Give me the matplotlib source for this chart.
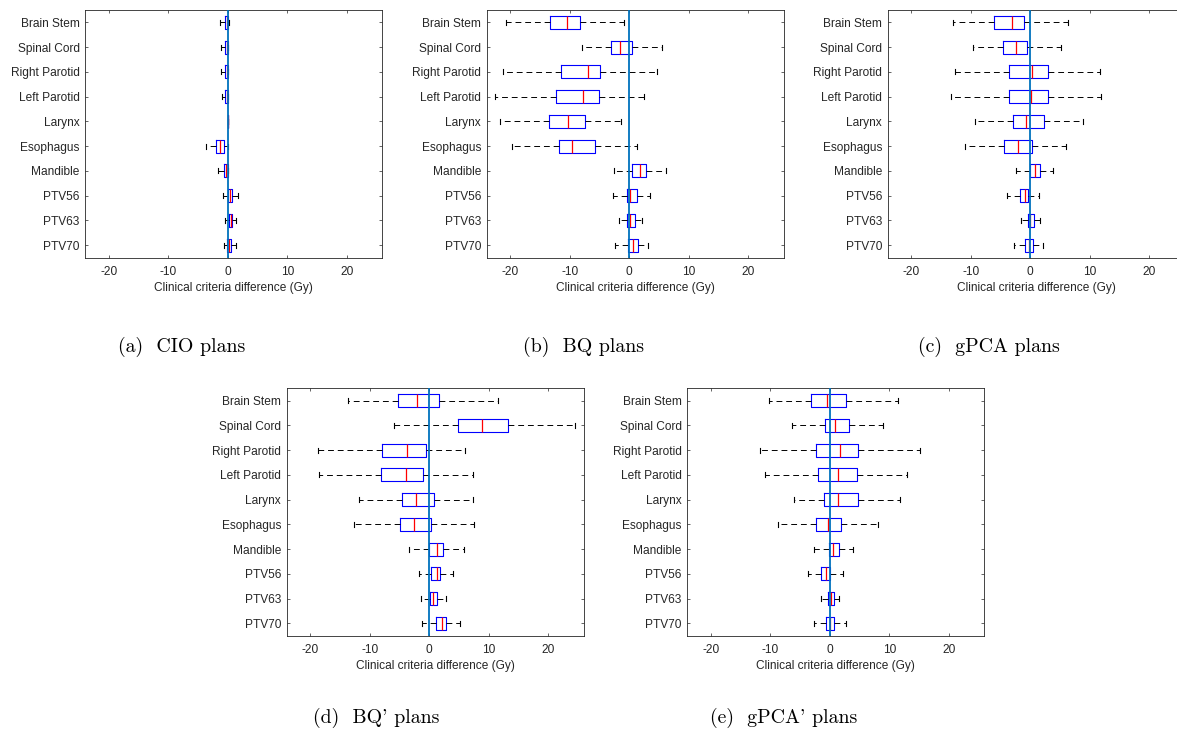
import numpy as np
import matplotlib
matplotlib.use('Agg')
import matplotlib.pyplot as plt

# structures (top to bottom)
organs = ['Brain Stem', 'Spinal Cord', 'Right Parotid', 'Left Parotid', 'Larynx',
          'Esophagus', 'Mandible', 'PTV56', 'PTV63', 'PTV70']

# box stats per plan: whisker low, q1, median, q3, whisker high (Gy)
cio_lo  = [-1.3, -1.1, -1.1, -0.95, 0.0, -3.65, -1.7, -0.8, -0.45, -0.67]
cio_q1  = [-0.5, -0.45, -0.5, -0.4, 0.0, -1.97, -0.67, 0.0, 0.17, -0.1]
cio_med = [-0.2, -0.2, -0.2, -0.2, 0.0, -1.24, -0.28, 0.4, 0.45, 0.17]
cio_q3  = [0.05, 0.0, 0.0, 0.0, 0.0, -0.73, -0.05, 0.67, 0.67, 0.5]
cio_hi  = [0.25, 0.1, 0.1, 0.05, 0.0, 0.0, 0.1, 1.7, 1.4, 1.3]

bq_lo  = [-20.7, -7.9, -21.3, -22.6, -21.7, -19.7, -2.64, -2.7, -1.8, -2.47]
bq_q1  = [-13.26, -3.15, -11.57, -12.3, -13.5, -11.8, 0.5, -0.39, -0.34, -0.17]
bq_med = [-10.5, -1.57, -6.9, -7.75, -10.3, -9.6, 1.8, 0.17, 0.06, 0.67]
bq_q3  = [-8.26, 0.5, -5.0, -5.1, -7.47, -5.73, 2.87, 1.24, 0.9, 1.52]
bq_hi  = [-0.84, 5.45, 4.6, 2.5, -1.35, 1.24, 6.18, 3.54, 2.08, 3.2]

gp_lo  = [-13.0, -9.66, -12.6, -13.4, -9.27, -11.0, -2.4, -3.9, -1.63, -2.8]
gp_q1  = [-6.18, -4.6, -3.6, -3.54, -2.87, -4.4, 0.0, -1.74, -0.39, -0.96]
gp_med = [-3.1, -2.4, 0.22, 0.1, -0.79, -2.08, 0.79, -0.84, 0.0, -0.22]
gp_q3  = [-1.0, -0.62, 2.98, 3.03, 2.3, 0.34, 1.69, -0.34, 0.56, 0.45]
gp_hi  = [6.3, 5.1, 11.8, 11.9, 8.9, 6.0, 3.9, 1.4, 1.69, 2.13]

bq2_lo  = [-13.7, -6.0, -18.76, -18.6, -11.9, -12.6, -3.48, -1.8, -1.46, -1.24]
bq2_q1  = [-5.28, 4.78, -7.92, -8.09, -4.6, -4.94, 0.0, 0.22, 0.11, 1.12]
bq2_med = [-2.0, 8.93, -3.82, -3.88, -2.25, -2.64, 1.24, 1.3, 0.67, 2.08]
bq2_q3  = [1.69, 13.2, -0.62, -1.0, 0.79, 0.22, 2.3, 1.74, 1.35, 2.87]
bq2_hi  = [11.5, 24.5, 6.0, 7.36, 7.36, 7.5, 5.8, 4.0, 2.87, 5.1]

gp2_lo  = [-10.2, -6.4, -11.8, -10.96, -6.07, -8.7, -2.75, -3.6, -1.5, -2.75]
gp2_q1  = [-3.1, -0.84, -2.36, -2.08, -0.96, -2.4, -0.17, -1.5, -0.34, -0.67]
gp2_med = [-0.45, 0.79, 1.63, 1.29, 1.4, -0.39, 0.56, -0.73, 0.11, 0.0]
gp2_q3  = [2.8, 3.15, 4.66, 4.6, 4.72, 1.9, 1.46, 0.06, 0.62, 0.62]
gp2_hi  = [11.4, 8.93, 15.1, 13.0, 11.8, 8.15, 3.93, 2.13, 1.57, 2.7]

captions = ['(a)  CIO plans', '(b)  BQ plans', '(c)  gPCA plans',
            "(d)  BQ' plans", "(e)  gPCA' plans"]
xticks = [-20, -10, 0, 10, 20]

panels = [
    (cio_lo, cio_q1, cio_med, cio_q3, cio_hi),
    (bq_lo, bq_q1, bq_med, bq_q3, bq_hi),
    (gp_lo, gp_q1, gp_med, gp_q3, gp_hi),
    (bq2_lo, bq2_q1, bq2_med, bq2_q3, bq2_hi),
    (gp2_lo, gp2_q1, gp2_med, gp2_q3, gp2_hi),
]

# layout (figure pixels, 1177x738)
W, H = 1177, 738
ax_px = [(85.3, 10), (486.7, 10), (887.7, 10), (286.7, 388.3), (687.3, 388.3)]
ax_w, ax_h = 297, 247.5
cap_px = [(118, 347), (523, 347), (918, 347), (313, 718), (710, 718)]

plt.rcParams['font.family'] = ['Liberation Sans', 'DejaVu Sans']
plt.rcParams['font.size'] = 8.6
plt.rcParams['axes.unicode_minus'] = False
axcol = '#262626'

fig = plt.figure(figsize=(W/100, H/100), dpi=100)

for i, (lo, q1, med, q3, hi) in enumerate(panels):
    x0, y0 = ax_px[i]
    ax = fig.add_axes([x0/W, 1 - (y0 + ax_h)/H, ax_w/W, ax_h/H])
    stats = [dict(whislo=a, q1=b, med=c, q3=d, whishi=e, fliers=[])
             for a, b, c, d, e in zip(lo, q1, med, q3, hi)]
    pos = np.arange(1, len(organs) + 1)
    ax.bxp(stats, positions=pos, orientation='horizontal', widths=0.52,
           capwidths=0.2, showfliers=False,
           boxprops=dict(color='blue', lw=0.8),
           medianprops=dict(color='red', lw=0.9),
           whiskerprops=dict(color='black', lw=0.7, linestyle=(0, (6, 4))),
           capprops=dict(color='black', lw=0.8))
    # zero reference line drawn over the boxes
    ax.axvline(0, color='#0072BD', lw=1.3, zorder=4)
    ax.set_xlim(-24, 26)
    ax.set_ylim(10.5, 0.5)
    ax.set_xticks(xticks)
    ax.set_yticks(pos, organs)
    ax.tick_params(direction='in', length=2.5, width=0.5, colors=axcol,
                   top=True, right=True, pad=4)
    ax.tick_params(axis='x', pad=6)
    for s in ax.spines.values():
        s.set_color(axcol)
        s.set_linewidth(0.6)
    ax.set_xlabel('Clinical criteria difference (Gy)', color=axcol, labelpad=3)

    cx, cy = cap_px[i]
    fig.text(cx/W, 1 - cy/H, captions[i], family='cmr10', fontsize=14.3,
             ha='left', va='center')

fig.savefig('out.png', dpi=100)
